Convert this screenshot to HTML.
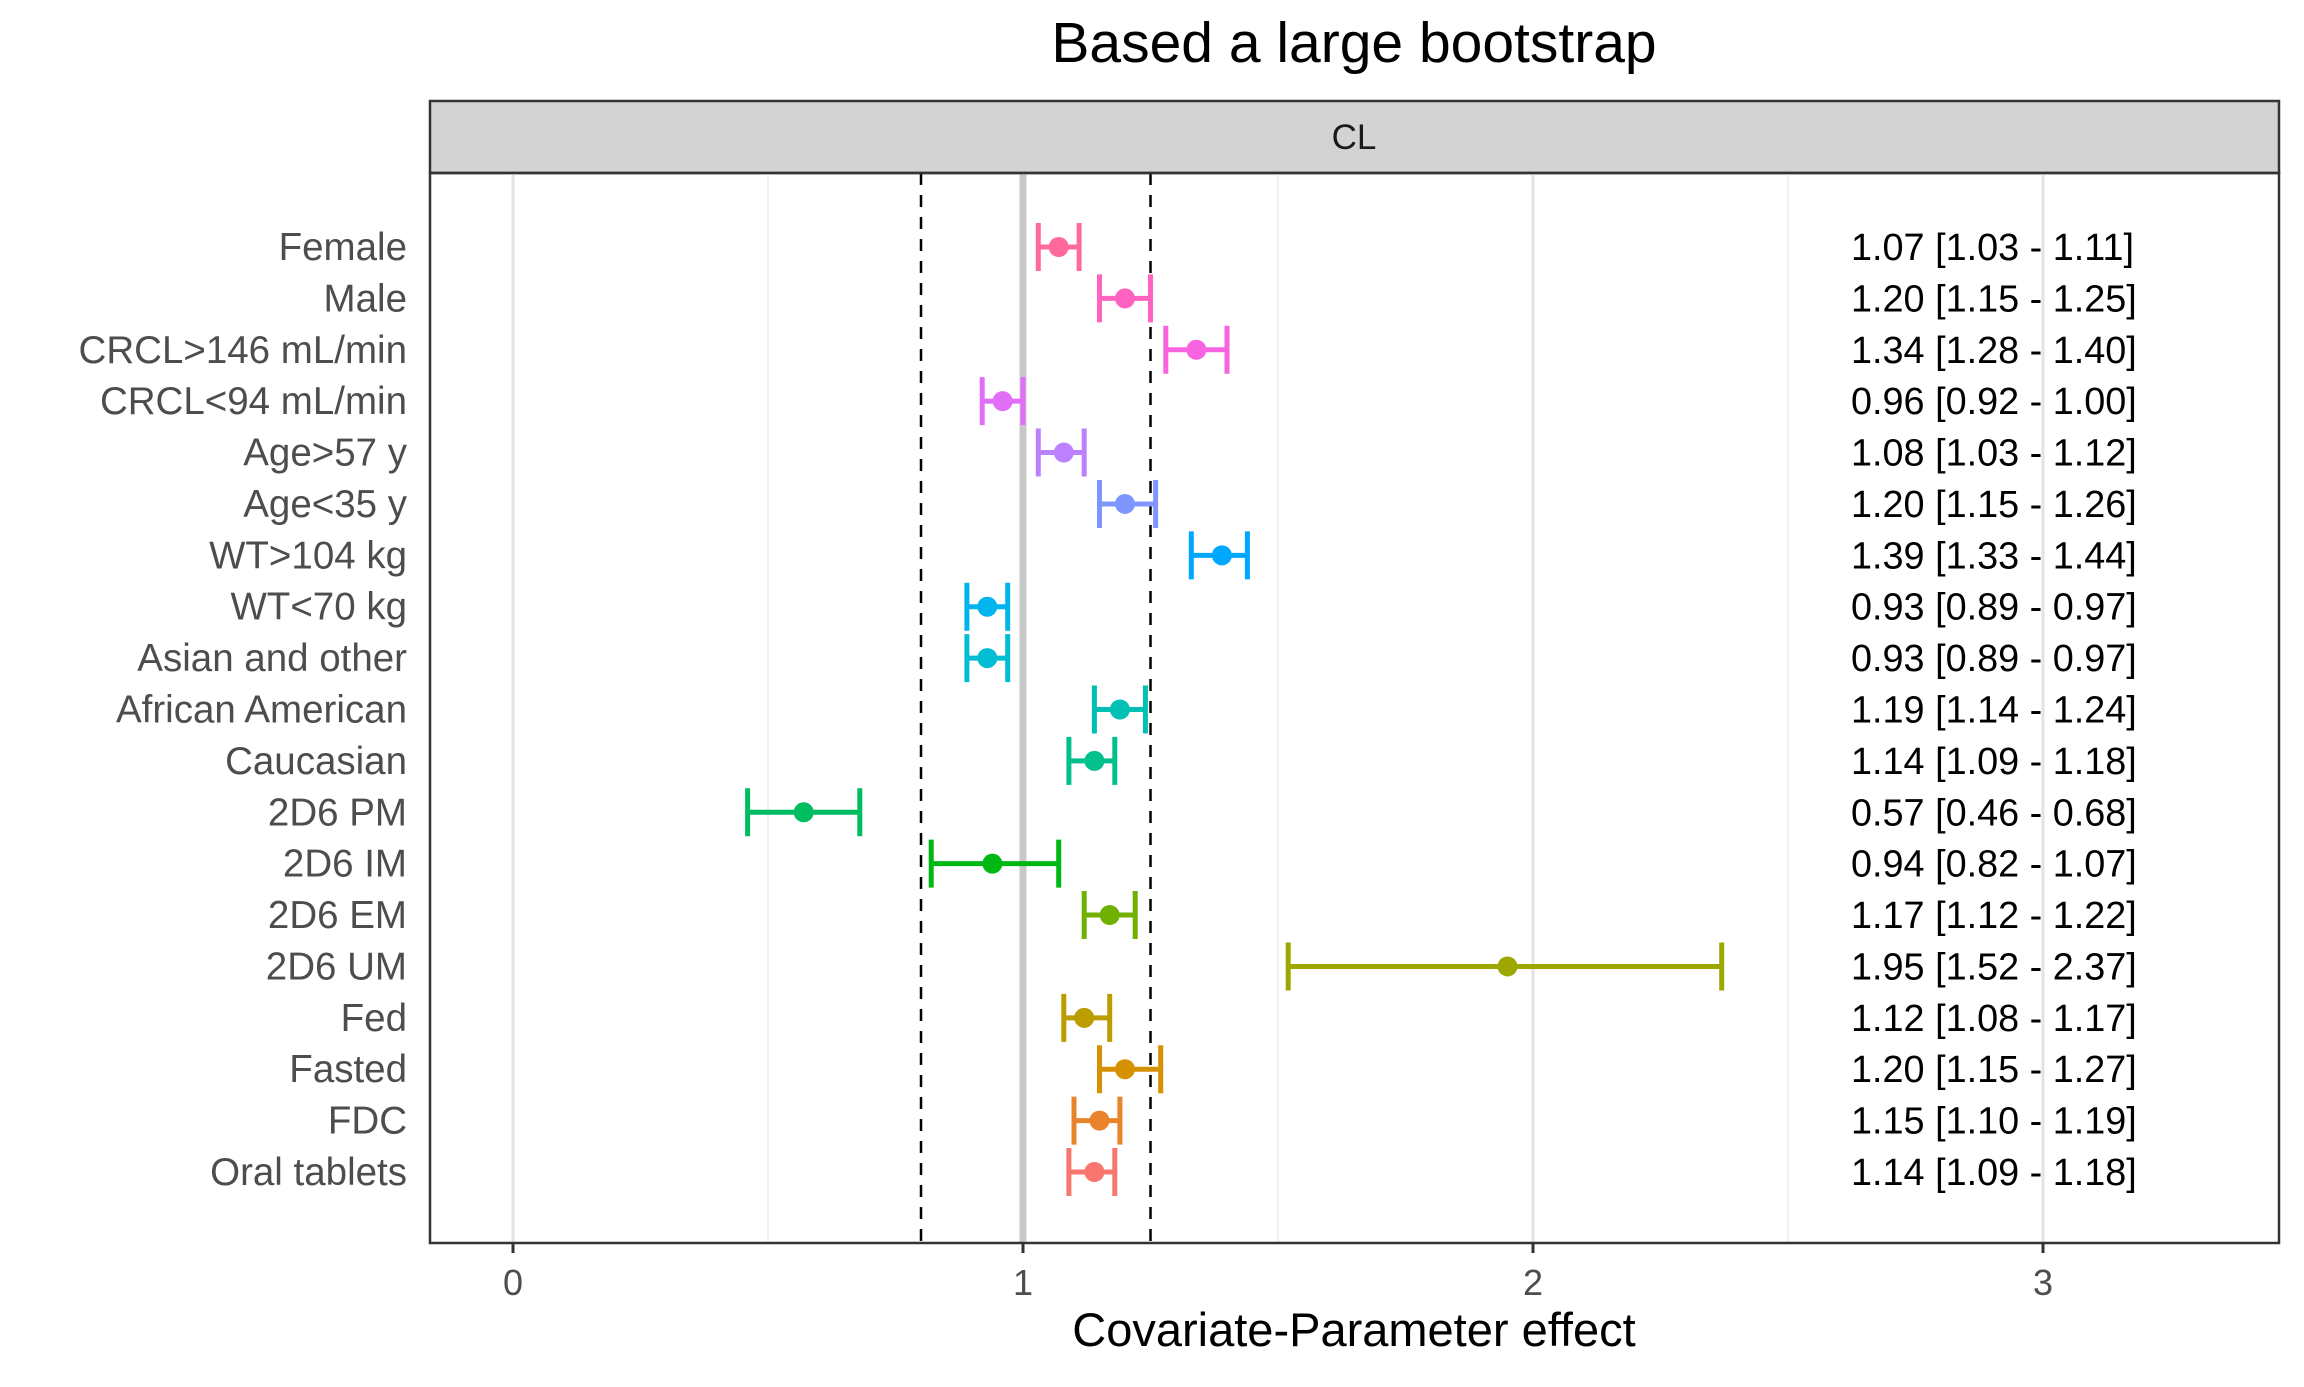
<!DOCTYPE html>
<html><head><meta charset="utf-8"><style>
body{margin:0;background:#fff}
svg text{font-family:"Liberation Sans",sans-serif}
</style></head><body>
<svg id="chart" width="2304" height="1382" viewBox="0 0 2304 1382" xmlns="http://www.w3.org/2000/svg">
<text x="1354" y="62" font-size="57" text-anchor="middle" fill="#000">Based a large bootstrap</text>
<rect x="430" y="101" width="1849" height="72" fill="#d3d3d3" stroke="#333" stroke-width="2.5"/>
<text x="1354" y="149" font-size="35" text-anchor="middle" fill="#1a1a1a">CL</text>
<g id="grid"></g>
<g id="marks"></g>
<rect x="430" y="173" width="1849" height="1070" fill="none" stroke="#333" stroke-width="2.5"/>
<text x="1354" y="1346" font-size="47" text-anchor="middle" fill="#000">Covariate-Parameter effect</text>
</svg>
<script>
const labels=["Female","Male","CRCL>146 mL/min","CRCL<94 mL/min","Age>57 y","Age<35 y","WT>104 kg","WT<70 kg","Asian and other","African American","Caucasian","2D6 PM","2D6 IM","2D6 EM","2D6 UM","Fed","Fasted","FDC","Oral tablets"];
const mids=[1.07,1.20,1.34,0.96,1.08,1.20,1.39,0.93,0.93,1.19,1.14,0.57,0.94,1.17,1.95,1.12,1.20,1.15,1.14];
const lows=[1.03,1.15,1.28,0.92,1.03,1.15,1.33,0.89,0.89,1.14,1.09,0.46,0.82,1.12,1.52,1.08,1.15,1.10,1.09];
const highs=[1.11,1.25,1.40,1.00,1.12,1.26,1.44,0.97,0.97,1.24,1.18,0.68,1.07,1.22,2.37,1.17,1.27,1.19,1.18];
const majorTicks=[0,1,2,3];
const minorTicks=[0.5,1.5,2.5];
const refLines=[0.8,1.25];
const NS="http://www.w3.org/2000/svg";
const x=v=>513+v*510;
const y=i=>247+i*(1172-247)/(labels.length-1);
function hcl(h,c,l){const hr=h*Math.PI/180;const L=l,a=Math.cos(hr)*c,b=Math.sin(hr)*c;
const Xn=95.047,Yn=100,Zn=108.883;const u=(4*Xn)/(Xn+15*Yn+3*Zn),vv=(9*Yn)/(Xn+15*Yn+3*Zn);
const Y=L>8?Yn*Math.pow((L+16)/116,3):Yn*L/903.3;const up=a/(13*L)+u,vp=b/(13*L)+vv;
const X=9*Y*up/(4*vp),Z=-X/3-5*Y+3*Y/vp;
let r=(3.240479*X-1.53715*Y-0.498535*Z)/100,g=(-0.969256*X+1.875992*Y+0.041556*Z)/100,bl=(0.055648*X-0.204043*Y+1.057311*Z)/100;
const gm=t=>{t=t>0.0031308?1.055*Math.pow(t,1/2.4)-0.055:12.92*t;return Math.round(Math.max(0,Math.min(1,t))*255)};
return `rgb(${gm(r)},${gm(g)},${gm(bl)})`;}
function el(tag,attrs,parent){const e=document.createElementNS(NS,tag);for(const k in attrs)e.setAttribute(k,attrs[k]);parent.appendChild(e);return e;}
const grid=document.getElementById('grid'),marks=document.getElementById('marks'),svg=document.getElementById('chart');
minorTicks.forEach(t=>{const l=el('line',{x1:x(t),x2:x(t),y1:173,y2:1243,stroke:'#ebebeb','stroke-width':1.5},grid);

});
majorTicks.forEach(t=>{const l=el('line',{x1:x(t),x2:x(t),y1:173,y2:1243,stroke:t===1?'#c8c8c8':'#e3e3e3','stroke-width':t===1?7:3},grid);


const tk=el('line',{x1:x(t),x2:x(t),y1:1243,y2:1253,stroke:'#333','stroke-width':3},svg);


const tl=el('text',{x:x(t),y:1295,'font-size':36,'text-anchor':'middle',fill:'#4d4d4d'},svg);tl.textContent=t;

});
refLines.forEach(r=>{const l=el('line',{x1:x(r),x2:x(r),y1:173,y2:1243,stroke:'#000','stroke-width':2.5,'stroke-dasharray':'12,10'},grid);

});
const n=labels.length;
labels.forEach((lab,i)=>{const c=hcl(15+(n-1-i)*360/n,100,65);const yy=y(i);
const g=el('g',{},marks);


el('line',{x1:x(lows[i]),x2:x(highs[i]),y1:yy,y2:yy,stroke:c,'stroke-width':5},g);
el('line',{x1:x(lows[i]),x2:x(lows[i]),y1:yy-24,y2:yy+24,stroke:c,'stroke-width':5},g);
el('line',{x1:x(highs[i]),x2:x(highs[i]),y1:yy-24,y2:yy+24,stroke:c,'stroke-width':5},g);
const p=el('circle',{cx:x(mids[i]),cy:yy,r:10,fill:c},g);


const t=el('text',{x:407,y:yy+13,'font-size':38.5,'text-anchor':'end',fill:'#4d4d4d'},svg);t.textContent=lab;


const a=el('text',{x:1851,y:yy+13,'font-size':37.8,fill:'#000'},svg);
a.textContent=`${mids[i].toFixed(2)} [${lows[i].toFixed(2)} - ${highs[i].toFixed(2)}]`;

});
</script>
</body></html>
